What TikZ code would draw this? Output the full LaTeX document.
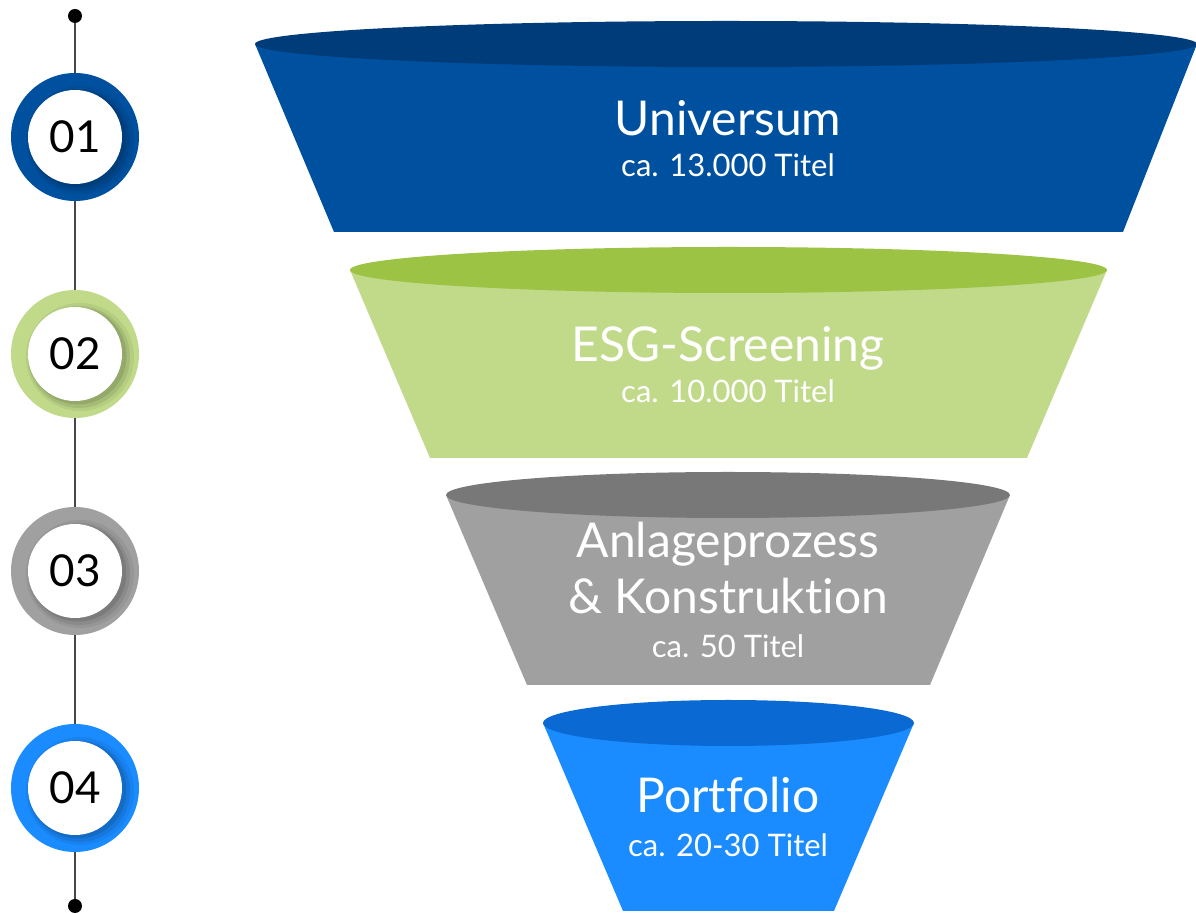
\documentclass[tikz,border=0pt]{standalone}
\usepackage{fontspec}
\setmainfont{Lato}[Ligatures=NoCommon]
\def \universeStr {Universum}
\def \universeNumStr {ca. 13.000 Titel}
\def \screeningStr {ESG-Screening}
\def \screeningNumStr {ca. 10.000 Titel}
\def \processStr {Anlageprozess}
\def \constructionStr {\& Konstruktion}
\def \processNumStr {ca. 50 Titel}
\def \portfolioStr {Portfolio}
\def \portfolioNumStr {ca. 20-30 Titel}
\def \ringOuter {64}
\def \ringInner {47}
\def \funnelRy {23}
\begin{document}
\begin{tikzpicture}[x=0.5pt,y=-0.5pt]

\definecolor{univBody}{RGB}{0,80,160}
\definecolor{univTop}{RGB}{0,60,122}
\definecolor{esgBody}{RGB}{192,218,138}
\definecolor{esgTop}{RGB}{157,195,68}
\definecolor{procBody}{RGB}{160,160,160}
\definecolor{procTop}{RGB}{120,120,120}
\definecolor{portBody}{RGB}{26,140,255}
\definecolor{portTop}{RGB}{10,105,210}
\definecolor{lineGray}{RGB}{70,70,70}

\useasboundingbox (0,0) rectangle (1196,913);

\begin{scope}[
  titletext/.style={text=white,font=\fontsize{24}{28}\selectfont,anchor=base},
  numtext/.style={text=white,font=\fontsize{15.5}{18}\selectfont,anchor=base},
  ring/.style={circle,fill=#1,minimum size=64pt,inner sep=0pt},
  inner/.style={circle,fill=white,minimum size=47pt,inner sep=0pt,
    font=\fontsize{22}{26}\selectfont},
  dot/.style={circle,fill=black,minimum size=7pt,inner sep=0pt}]

% funnel
\fill[univBody] (255,44) -- (1197,44) -- (1123,232) -- (334,232) -- cycle;
\fill[univTop] (726,44) ellipse [x radius=471, y radius=\funnelRy];

\fill[esgBody] (350,270) -- (1107,270) -- (1027,458) -- (430,458) -- cycle;
\fill[esgTop] (728.5,270) ellipse [x radius=378.5, y radius=\funnelRy];

\fill[procBody] (446,495) -- (1010,495) -- (930,685) -- (527,685) -- cycle;
\fill[procTop] (728,495) ellipse [x radius=282, y radius=\funnelRy];

\fill[portBody] (543,723) -- (914,723) -- (834,911) -- (623,911) -- cycle;
\fill[portTop] (728.5,723) ellipse [x radius=185.5, y radius=\funnelRy];

\node[titletext] (t1) at (728,136) {\universeStr};
\node[numtext] (s1) at (728,177) {\universeNumStr};
\node[titletext] (t2) at (728,362) {\screeningStr};
\node[numtext] (s2) at (728,403) {\screeningNumStr};
\node[titletext] (t3a) at (728,558) {\processStr};
\node[titletext] (t3b) at (728,614) {\constructionStr};
\node[numtext] (s3) at (728,658) {\processNumStr};
\node[titletext] (t4) at (728,813) {\portfolioStr};
\node[numtext] (s4) at (728,857) {\portfolioNumStr};

% steps
\node[dot] (top) at (75,16) {};
\node[dot] (bottom) at (75,906) {};

\node[ring=univBody] (c1) at (75,137) {};
\node[ring=esgBody] (c2) at (75,354) {};
\node[ring=procBody] (c3) at (75,571) {};
\node[ring=portBody] (c4) at (75,788) {};

\draw[lineGray, line width=1pt] (top) -- (c1);
\draw[lineGray, line width=1pt] (c1) -- (c2);
\draw[lineGray, line width=1pt] (c2) -- (c3);
\draw[lineGray, line width=1pt] (c3) -- (c4);
\draw[lineGray, line width=1pt] (c4) -- (bottom);

\fill[black, opacity=0.06] (80,140) circle (54);
\fill[black, opacity=0.08] (79,140) circle (51);
\fill[black, opacity=0.10] (78,139) circle (48.5);
\fill[black, opacity=0.06] (80,357) circle (54);
\fill[black, opacity=0.08] (79,357) circle (51);
\fill[black, opacity=0.10] (78,356) circle (48.5);
\fill[black, opacity=0.06] (80,574) circle (54);
\fill[black, opacity=0.08] (79,574) circle (51);
\fill[black, opacity=0.10] (78,573) circle (48.5);
\fill[black, opacity=0.06] (80,791) circle (54);
\fill[black, opacity=0.08] (79,791) circle (51);
\fill[black, opacity=0.10] (78,790) circle (48.5);

\node[inner] (n1) at (c1) {01};
\node[inner] (n2) at (c2) {02};
\node[inner] (n3) at (c3) {03};
\node[inner] (n4) at (c4) {04};

\end{scope}
\end{tikzpicture}
\end{document}
